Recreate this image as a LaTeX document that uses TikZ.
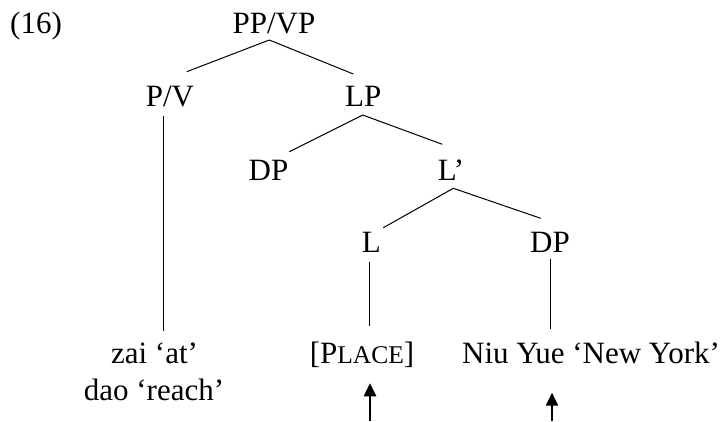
\documentclass[tikz,border=0pt]{standalone}
\usepackage{fontspec}
\setmainfont{Liberation Serif}
\usetikzlibrary{arrows.meta}
\tikzset{
  lab/.style={font=\fontsize{31}{37}\selectfont, inner sep=0pt, anchor=base},
  br/.style={line width=1pt},
  up/.style={line width=1.1pt, -{Triangle[width=12.5pt,length=13pt]}}
}
\begin{document}
\begin{tikzpicture}[x=1pt,y=-1pt]
\useasboundingbox (0,0) rectangle (728,421);
% nodes
\node[lab] (ex)   at (36,33.3)   {(16)};
\node[lab] (ppvp) at (274,33.3)  {PP/VP};
\node[lab] (pv)   at (170,106)   {P/V};
\node[lab] (lp)   at (363.3,106) {LP};
\node[lab] (dpa)  at (268.5,180) {DP};
\node[lab] (lbar) at (451,180)   {L’};
\node[lab] (l)    at (371.3,252.7) {L};
\node[lab] (dpb)  at (550,252.7) {DP};
\node[lab] (zai)  at (154.5,363.3) {zai ‘at’};
\node[lab] (dao)  at (154,400)   {dao ‘reach’};
\node[lab] (place) at (362,363.3) {[P{\fontsize{25.5}{30}\selectfont LACE}]};
\node[lab] (niu)  at (591,363.3) {Niu Yue ‘New York’};
\coordinate (a1) at (370,421);
\coordinate (a2) at (552,421);
% branches
\draw[br] ([xshift=-4.7pt,yshift=-6.7pt]ppvp.base) -- ([xshift=16.7pt,yshift=34.3pt]pv.base);
\draw[br] ([xshift=-4.7pt,yshift=-6.7pt]ppvp.base) -- ([xshift=-10pt,yshift=32pt]lp.base);
\draw[br] ([xshift=-6.7pt,yshift=-10pt]pv.base) -- ([xshift=8.8pt,yshift=32.6pt]zai.base);
\draw[br] ([xshift=-0.6pt,yshift=-9pt]lp.base) -- ([xshift=20.8pt,yshift=28.3pt]dpa.base);
\draw[br] ([xshift=-0.6pt,yshift=-9pt]lp.base) -- ([xshift=-8.7pt,yshift=35.7pt]lbar.base);
\draw[br] ([xshift=2.3pt,yshift=-8.3pt]lbar.base) -- ([xshift=12pt,yshift=25pt]l.base);
\draw[br] ([xshift=2.3pt,yshift=-8.3pt]lbar.base) -- ([xshift=-9.3pt,yshift=34.4pt]dpb.base);
\draw[br] ([xshift=-2.3pt,yshift=-9pt]l.base) -- ([xshift=7pt,yshift=37.3pt]place.base);
\draw[br] ([xshift=0.5pt,yshift=-6.6pt]dpb.base) -- ([xshift=-40.5pt,yshift=34pt]niu.base);
% arrows
\draw[up] (a1) -- ([xshift=8pt,yshift=-20pt]place.base);
\draw[up] (a2) -- ([xshift=-39pt,yshift=-29.4pt]niu.base);
\end{tikzpicture}
\end{document}
